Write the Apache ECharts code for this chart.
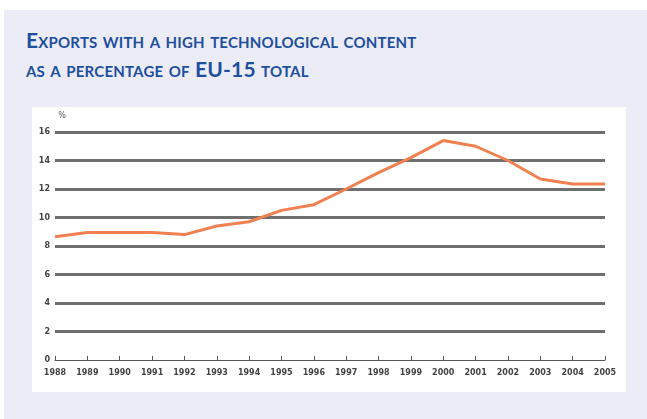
<!DOCTYPE html>
<html>
<head>
<meta charset="utf-8">
<script src="https://cdn.jsdelivr.net/npm/echarts@6/dist/echarts.min.js"></script>
<style>
  html, body { margin: 0; padding: 0; background: #fff; }
  .panel { position: absolute; left: 4px; top: 10px; width: 643px; height: 409px; background: #ececf6; }
  .title {
    position: absolute; left: 26px; top: 25px;
    font-family: Lato, "Open Sans", sans-serif; font-weight: bold;
    font-variant: small-caps; font-size: 21px; line-height: 29px;
    color: #1d4f9e; letter-spacing: 0.2px;
  }
  .plotbg { position: absolute; left: 32px; top: 107px; width: 594px; height: 285px; background: #fff; }
  #chart { position: absolute; left: 0; top: 0; width: 647px; height: 419px; }
</style>
</head>
<body>
<div class="panel"></div>
<div class="title">Exports with a high technological content<br>as a percentage of EU-15 total</div>
<div class="plotbg"></div>
<div id="chart"></div>
<script>
// years on the x axis
const years = ['1988', '1989', '1990', '1991', '1992', '1993', '1994', '1995', '1996',
  '1997', '1998', '1999', '2000', '2001', '2002', '2003', '2004', '2005']
// share of EU-15 total exports, %
const shareValues = [8.65, 8.95, 8.95, 8.95, 8.8, 9.4, 9.7, 10.5, 10.9,
  12.0, 13.15, 14.2, 15.4, 15.0, 14.0, 12.7, 12.35, 12.35]

const chart = echarts.init(document.getElementById('chart'))

chart.setOption({
  animation: false,
  grid: { left: 55, right: 42, top: 132, bottom: 59 },
  xAxis: {
    type: 'category',
    data: years,
    boundaryGap: false,
    axisLine: { lineStyle: { color: '#555', width: 1 } },
    axisTick: { inside: true, length: 4, lineStyle: { color: '#555' } },
    axisLabel: { color: '#444', fontSize: 8, fontWeight: 'bold', fontFamily: 'DejaVu Sans', margin: 9, interval: 0 },
    splitLine: { show: false }
  },
  yAxis: {
    type: 'value',
    min: 0,
    max: 16,
    interval: 2,
    name: '%',
    nameGap: 12,
    nameTextStyle: { color: '#555', fontSize: 8, fontFamily: 'DejaVu Sans', padding: [0, 0, 0, 14] },
    axisLine: { show: false },
    axisTick: { show: false },
    axisLabel: { color: '#444', fontSize: 8, fontWeight: 'bold', fontFamily: 'DejaVu Sans', margin: 5 },
    splitLine: { showMinLine: false, lineStyle: { color: '#6f6f6f', width: 3 } }
  },
  series: [{
    type: 'line',
    data: shareValues,
    symbol: 'none',
    lineStyle: { color: '#f08050', width: 3 }
  }]
})
</script>
</body>
</html>
